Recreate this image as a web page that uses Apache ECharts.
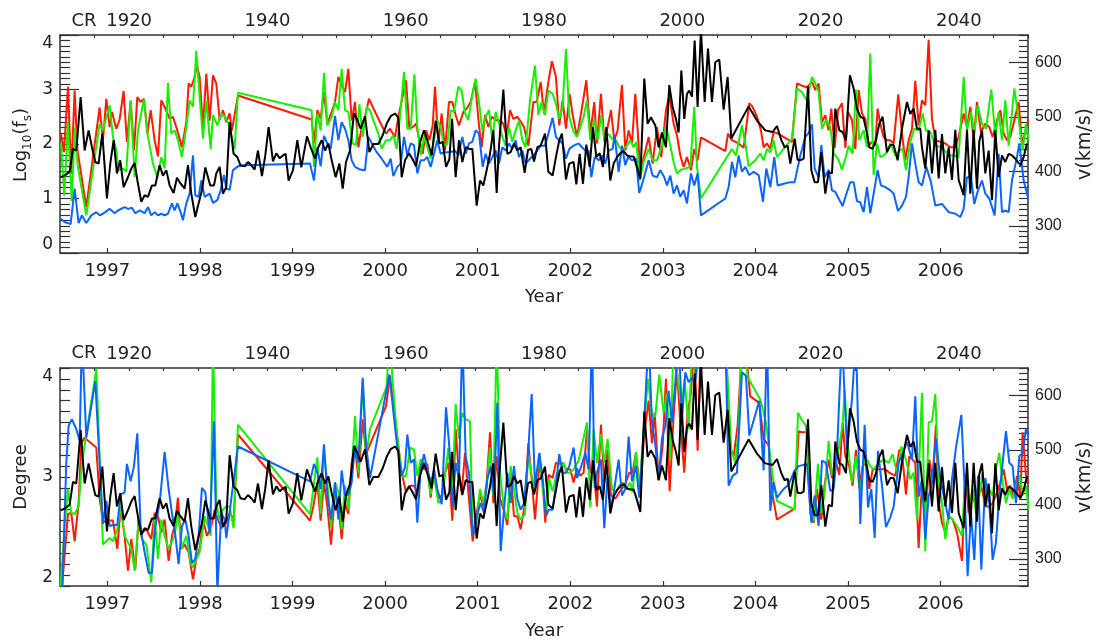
<!DOCTYPE html>
<html><head><meta charset="utf-8">
<script src="https://cdn.jsdelivr.net/npm/echarts@6/dist/echarts.min.js"></script>
<style>html,body{margin:0;padding:0;background:#fff}#c{width:1097px;height:639px}</style>
</head><body><div id="c"></div>
<script>
const yearTicks = [1997,1998,1999,2000,2001,2002,2003,2004,2005,2006];
const crLabels = [1920,1940,1960,1980,2000,2020,2040];
const speedTicks = [300,400,500,600];

const topRed = [[1996.50,2.19],[1996.532,1.85],[1996.575,3.05],[1996.611,1.45],[1996.647,2.98],[1996.676,1.9],[1996.773,0.84],[1996.917,2.67],[1996.953,2.07],[1996.989,2.83],[1997.025,2.31],[1997.05,2.59],[1997.097,2.28],[1997.133,2.45],[1997.176,2.97],[1997.212,2.04],[1997.252,2.79],[1997.288,1.88],[1997.324,2.86],[1997.36,2.77],[1997.396,2.83],[1997.432,2.19],[1997.468,2.62],[1997.511,2.07],[1997.547,1.77],[1997.583,2.8],[1997.619,2.68],[1997.673,2.46],[1997.709,2.5],[1997.745,2.31],[1997.806,1.94],[1997.853,2.4],[1997.878,3.11],[1997.907,3.05],[1997.943,3.23],[1997.968,3.45],[1997.997,3.23],[1998.033,2.31],[1998.069,3.29],[1998.105,2.43],[1998.141,3.26],[1998.177,3.11],[1998.213,2.44],[1998.249,2.62],[1998.285,2.4],[1998.321,2.56],[1998.346,2.25],[1998.411,2.89],
[1999.207,2.45],[1999.232,2.01],[1999.268,2.62],[1999.304,2.46],[1999.34,2.95],[1999.376,2.37],[1999.423,2.59],[1999.459,2.77],[1999.495,3.23],[1999.531,3.08],[1999.567,2.95],[1999.603,3.38],[1999.639,2.43],[1999.675,2.77],[1999.711,1.94],[1999.747,2.31],[1999.783,2.5],[1999.826,2.83],[1999.866,2.68],[1999.909,2.53],[1999.963,2.34],[2000.01,2.19],[2000.053,2.28],[2000.107,2.13],[2000.147,2.53],[2000.226,3.17],[2000.262,2.28],[2000.298,2.31],[2000.334,2.37],[2000.37,2.07],[2000.406,1.82],[2000.442,2.25],[2000.478,2.07],[2000.514,2.34],[2000.539,3.05],[2000.575,2.01],[2000.611,2.56],[2000.647,1.88],[2000.69,2.77],[2000.726,2.77],[2000.762,2.53],[2000.798,2.34],[2000.845,2.59],[2000.881,2.65],[2000.924,2.77],[2000.971,3.14],[2001.014,2.34],[2001.043,1.94],[2001.079,2.53],[2001.115,2.31],[2001.151,2.5],[2001.205,2.43],[2001.241,2.43],[2001.277,2.37],[2001.313,2.13],[2001.349,2.62],[2001.385,2.46],[2001.428,2.5],[2001.457,2.43],[2001.5,2.31],[2001.547,1.97],[2001.601,2.77],[2001.637,2.77],[2001.68,3.14],[2001.716,2.56],[2001.763,3.14],[2001.802,3.52],[2001.845,3.23],[2001.881,2.34],[2001.917,2.8],[2001.953,2.28],[2001.993,2.92],[2002.029,2.5],[2002.072,2.13],[2002.119,2.59],[2002.173,3.17],[2002.216,2.19],[2002.259,2.77],[2002.288,2.01],[2002.331,2.92],[2002.367,2.07],[2002.403,2.31],[2002.439,2.62],[2002.475,2.07],[2002.511,2.25],[2002.558,3.08],[2002.594,1.88],[2002.63,2.25],[2002.666,2.01],[2002.702,2.92],[2002.756,1.49],[2002.803,1.82],[2002.846,2.13],[2002.889,1.64],[2002.936,2.31],[2002.983,1.76],[2003.033,2.62],[2003.069,2.89],[2003.116,2.37],[2003.152,2.16],[2003.188,1.79],[2003.224,1.58],[2003.26,1.76],[2003.303,1.52],[2003.339,1.91],[2003.375,1.7],[2003.411,2.12],[2003.674,1.87],[2003.703,2.19],[2003.746,2.07],[2003.818,2.01],[2003.872,1.93],[2003.933,2.75],[2003.969,2.68],[2004.016,2.5],[2004.059,2.25],[2004.088,1.94],[2004.124,2.01],[2004.16,1.91],[2004.196,2.22],[2004.232,2.2],
[2004.394,2.04],[2004.448,3.11],[2004.502,3.07],[2004.556,3.04],[2004.61,3.14],[2004.646,2.99],[2004.682,3.11],[2004.718,2.4],[2004.754,2.53],[2004.79,2.25],[2004.819,2.65],[2004.855,1.93],[2004.891,2.62],[2004.934,2.75],[2004.97,1.93],[2004.999,2.59],[2005.042,2.44],[2005.078,1.91],[2005.114,2.99],[2005.15,2.56],[2005.186,2.46],[2005.222,1.97],[2005.258,2.04],[2005.294,1.97],[2005.319,2.65],[2005.348,2.37],[2005.384,2.13],[2005.42,2.07],[2005.456,2.07],[2005.492,2.01],[2005.542,2.91],[2005.582,2.19],[2005.618,1.7],[2005.654,2.07],[2005.69,2.28],[2005.726,3.16],[2005.762,2.34],[2005.798,2.8],[2005.834,2.71],[2005.87,3.91],[2005.906,2.46],[2005.942,2.07],[2005.996,2.04],[2006.05,2.01],[2006.104,1.94],[2006.158,1.94],[2006.194,2.13],[2006.248,2.56],[2006.284,2.31],[2006.32,2.68],[2006.356,2.07],[2006.392,2.77],[2006.435,2.22],[2006.482,2.37],[2006.525,2.31],[2006.561,2.13],[2006.608,2.43],[2006.644,2.62],[2006.68,2.19],[2006.716,2.07],[2006.752,2.13],[2006.795,2.43],[2006.842,2.77],[2006.878,2.01],[2006.921,2.25],[2006.95,2.43]];

const topGreen = [[1996.50,2.0],[1996.535,1.05],[1996.575,2.4],[1996.615,0.95],[1996.65,2.3],[1996.68,1.6],[1996.773,0.69],[1996.917,2.37],[1996.953,2.25],[1997.025,2.71],[1997.061,2.13],[1997.097,1.88],[1997.122,1.52],[1997.169,1.55],[1997.205,1.49],[1997.252,2.8],[1997.295,1.39],[1997.331,2.25],[1997.396,2.83],[1997.439,2.13],[1997.493,1.64],[1997.54,1.39],[1997.583,1.76],[1997.619,1.55],[1997.655,3.12],[1997.691,2.19],[1997.727,2.25],[1997.763,2.07],[1997.806,1.76],[1997.853,2.31],[1997.889,2.8],[1997.925,2.69],[1997.961,3.71],[1997.997,2.86],[1998.033,2.1],[1998.069,2.8],[1998.116,1.91],[1998.141,2.53],[1998.188,2.34],[1998.231,2.56],[1998.267,2.5],[1998.31,2.37],[1998.375,1.91],[1998.411,2.94],
[1999.207,2.62],[1999.232,1.58],[1999.268,2.56],[1999.304,2.25],[1999.34,3.3],[1999.376,2.34],[1999.423,2.5],[1999.459,2.77],[1999.495,2.62],[1999.531,3.38],[1999.567,2.62],[1999.603,2.59],[1999.65,2.01],[1999.686,1.98],[1999.722,2.73],[1999.758,2.13],[1999.801,2.68],[1999.837,2.62],[1999.88,2.4],[1999.927,2.19],[1999.963,1.91],[2000.01,2.07],[2000.053,2.07],[2000.089,2.16],[2000.125,1.91],[2000.161,2.5],[2000.204,3.32],[2000.24,2.28],[2000.276,2.28],[2000.316,3.28],[2000.348,2.31],[2000.384,1.79],[2000.42,2.13],[2000.456,1.94],[2000.492,1.73],[2000.528,2.07],[2000.564,2.44],[2000.6,2.31],[2000.636,1.97],[2000.672,2.0],[2000.708,2.62],[2000.744,2.59],[2000.791,3.05],[2000.827,2.98],[2000.863,2.56],[2000.899,2.44],[2000.935,2.83],[2000.978,3.2],[2001.014,2.77],[2001.05,2.25],[2001.086,2.5],[2001.122,2.62],[2001.158,2.07],[2001.194,2.59],[2001.23,2.38],[2001.266,2.13],[2001.302,1.97],[2001.338,2.31],[2001.374,2.04],[2001.41,2.25],[2001.446,2.43],[2001.482,2.07],[2001.518,1.94],[2001.565,2.8],[2001.619,3.44],[2001.655,2.53],[2001.691,2.77],[2001.727,2.53],[2001.763,2.98],[2001.809,2.92],[2001.845,2.74],[2001.881,2.46],[2001.917,2.68],[2001.953,3.74],[2001.989,2.5],[2002.036,2.22],[2002.072,2.13],[2002.108,2.31],[2002.144,2.5],[2002.18,2.8],[2002.216,2.07],[2002.259,2.46],[2002.295,2.07],[2002.335,2.53],[2002.371,2.04],[2002.407,2.19],[2002.45,2.1],[2002.493,2.07],[2002.529,1.94],[2002.576,1.91],[2002.612,1.97],[2002.648,2.07],[2002.684,1.94],[2002.713,2.04],[2002.749,1.33],[2002.792,1.67],[2002.846,1.91],[2002.889,1.7],[2002.936,1.7],[2002.99,1.97],[2003.033,2.34],[2003.08,1.97],[2003.116,1.67],[2003.152,1.46],[2003.199,1.53],[2003.242,1.55],[2003.296,1.58],[2003.339,2.68],[2003.368,1.58],[2003.411,1.0],[2003.746,1.91],[2003.789,1.79],[2003.854,2.34],[2003.897,1.94],[2003.926,1.59],[2003.998,1.7],[2004.052,1.83],[2004.088,1.7],[2004.124,1.91],[2004.16,1.85],[2004.196,2.07],[2004.232,1.76],
[2004.394,2.1],[2004.448,3.02],[2004.502,2.95],[2004.556,2.8],[2004.61,3.23],[2004.646,3.11],[2004.682,2.95],[2004.718,2.28],[2004.761,2.44],[2004.808,2.31],[2004.844,1.83],[2004.891,1.73],[2004.934,1.53],[2004.97,1.73],[2005.006,1.97],[2005.049,1.82],[2005.085,3.0],[2005.121,2.07],[2005.168,2.25],[2005.204,1.94],[2005.24,3.66],[2005.276,1.43],[2005.312,2.01],[2005.348,1.76],[2005.384,1.79],[2005.42,1.85],[2005.456,2.01],[2005.51,1.79],[2005.553,1.88],[2005.589,1.91],[2005.625,1.52],[2005.672,2.04],[2005.715,2.28],[2005.762,2.25],[2005.805,2.56],[2005.841,2.25],[2005.888,2.22],[2005.942,1.97],[2006.014,1.94],[2006.086,1.79],[2006.14,1.79],[2006.194,1.76],[2006.248,3.23],[2006.284,2.25],[2006.327,2.59],[2006.363,2.19],[2006.399,2.71],[2006.446,2.37],[2006.489,2.28],[2006.547,3.0],[2006.59,2.13],[2006.626,2.59],[2006.662,2.07],[2006.698,2.8],[2006.734,1.97],[2006.795,3.02],[2006.842,2.46],[2006.885,1.88],[2006.921,2.37],[2006.95,2.07]];

const topBlue = [[1996.496,0.63],[1996.539,0.57],[1996.604,0.53],[1996.647,1.18],[1996.69,0.55],[1996.726,0.69],[1996.773,0.55],[1996.827,0.69],[1996.881,0.75],[1996.917,0.69],[1996.953,0.72],[1997.025,0.81],[1997.079,0.73],[1997.115,0.78],[1997.187,0.84],[1997.223,0.81],[1997.266,0.83],[1997.302,0.73],[1997.349,0.78],[1997.403,0.73],[1997.439,0.84],[1997.475,0.69],[1997.511,0.75],[1997.547,0.69],[1997.583,0.72],[1997.619,0.69],[1997.655,0.72],[1997.698,0.91],[1997.727,0.78],[1997.756,0.91],[1997.792,0.75],[1997.817,0.6],[1997.853,0.91],[1997.889,1.09],[1997.925,1.79],[1997.95,1.06],[1997.986,1.03],[1998.015,1.33],[1998.051,1.03],[1998.105,1.09],[1998.141,0.92],[1998.188,0.97],[1998.224,1.15],[1998.26,1.43],[1998.285,1.18],[1998.321,1.16],[1998.357,1.52],[1998.411,1.59],[1998.483,1.61],
[1999.189,1.64],[1999.232,1.33],[1999.268,1.94],[1999.304,1.59],[1999.34,2.15],[1999.376,2.01],[1999.412,1.91],[1999.459,2.51],[1999.495,2.07],[1999.531,2.4],[1999.567,2.28],[1999.603,2.07],[1999.639,1.7],[1999.675,1.58],[1999.729,1.53],[1999.783,1.52],[1999.819,2.13],[1999.866,1.98],[1999.909,1.85],[1999.963,1.73],[2000.024,1.58],[2000.06,1.73],[2000.089,1.41],[2000.132,1.58],[2000.168,1.64],[2000.204,2.13],[2000.24,1.79],[2000.276,2.01],[2000.312,1.98],[2000.348,1.46],[2000.384,1.7],[2000.42,1.7],[2000.456,1.76],[2000.492,1.58],[2000.528,1.82],[2000.564,2.07],[2000.6,1.82],[2000.636,1.85],[2000.672,1.85],[2000.708,1.85],[2000.755,1.88],[2000.791,1.79],[2000.834,2.13],[2000.87,1.82],[2000.906,2.01],[2000.942,2.04],[2000.978,2.25],[2001.014,2.19],[2001.054,1.58],[2001.086,1.82],[2001.122,1.64],[2001.158,1.76],[2001.194,1.88],[2001.23,1.64],[2001.266,1.94],[2001.302,1.88],[2001.338,2.01],[2001.374,1.91],[2001.41,2.07],[2001.446,1.76],[2001.482,1.88],[2001.518,1.64],[2001.565,1.73],[2001.601,1.79],[2001.644,1.88],[2001.68,1.97],[2001.727,1.97],[2001.763,2.19],[2001.809,2.48],[2001.845,2.13],[2001.881,2.07],[2001.917,2.01],[2001.953,1.73],[2001.989,1.91],[2002.036,1.97],[2002.09,2.01],[2002.126,1.94],[2002.169,1.87],[2002.198,1.88],[2002.227,1.39],[2002.263,1.76],[2002.306,1.7],[2002.342,1.79],[2002.378,1.64],[2002.414,1.88],[2002.457,1.91],[2002.479,2.16],[2002.522,1.49],[2002.558,1.97],[2002.594,1.61],[2002.623,1.76],[2002.666,1.7],[2002.709,1.73],[2002.745,1.1],[2002.792,1.36],[2002.846,1.7],[2002.889,1.42],[2002.936,1.39],[2002.972,1.52],[2003.015,1.39],[2003.044,1.24],[2003.08,1.42],[2003.116,1.09],[2003.152,1.24],[2003.188,1.03],[2003.224,1.15],[2003.26,0.91],[2003.303,1.46],[2003.339,1.24],[2003.375,1.46],[2003.411,0.69],[2003.674,1.0],[2003.71,1.21],[2003.746,1.67],[2003.782,1.39],[2003.818,1.79],[2003.854,1.49],[2003.89,1.58],[2003.933,1.43],[2003.98,1.49],[2004.034,1.43],[2004.081,0.94],[2004.117,1.55],[2004.16,1.21],[2004.203,1.76],[2004.239,1.24],[2004.304,1.27],[2004.376,1.3],
[2004.423,1.3],[2004.484,1.79],[2004.538,2.13],[2004.574,2.2],[2004.61,2.36],[2004.639,1.55],[2004.682,1.39],[2004.711,1.98],[2004.747,1.39],[2004.79,1.53],[2004.826,1.15],[2004.862,1.12],[2004.898,1.0],[2004.941,0.86],[2004.977,1.06],[2005.024,1.3],[2005.06,1.3],[2005.096,0.95],[2005.132,0.93],[2005.168,0.75],[2005.204,1.21],[2005.24,0.73],[2005.276,1.09],[2005.319,1.52],[2005.355,1.24],[2005.402,1.21],[2005.456,1.15],[2005.492,1.09],[2005.539,0.77],[2005.582,0.87],[2005.625,1.03],[2005.654,1.39],[2005.69,2.01],[2005.726,1.64],[2005.762,1.3],[2005.798,1.24],[2005.845,1.58],[2005.895,1.3],[2005.942,0.87],[2006.014,0.9],[2006.086,0.75],[2006.158,0.72],[2006.212,0.66],[2006.248,0.81],[2006.284,1.39],[2006.327,1.39],[2006.363,0.9],[2006.403,1.15],[2006.446,1.33],[2006.482,1.09],[2006.525,1.0],[2006.583,0.69],[2006.626,1.82],[2006.662,0.75],[2006.698,0.78],[2006.734,0.75],[2006.77,1.33],[2006.824,1.76],[2006.849,2.01],[2006.896,1.33],[2006.95,0.97]];

const speed = [[1996.496,389],[1996.539,392],[1996.593,399],[1996.629,441],[1996.665,438],[1996.712,536],[1996.755,438],[1996.798,475],[1996.834,444],[1996.87,417],[1996.906,414],[1996.946,469],[1996.996,350],[1997.032,414],[1997.068,457],[1997.104,396],[1997.14,420],[1997.176,371],[1997.223,389],[1997.259,405],[1997.295,415],[1997.331,377],[1997.367,344],[1997.403,356],[1997.439,353],[1997.482,374],[1997.518,374],[1997.565,411],[1997.601,392],[1997.637,402],[1997.673,374],[1997.716,360],[1997.752,388],[1997.788,378],[1997.835,368],[1997.871,411],[1997.907,359],[1997.95,316],[1997.986,341],[1998.022,365],[1998.058,407],[1998.112,374],[1998.152,374],[1998.177,396],[1998.213,408],[1998.249,359],[1998.285,371],[1998.321,490],[1998.364,432],[1998.403,426],[1998.439,411],[1998.483,409],[1998.519,417],[1998.555,411],[1998.591,403],[1998.627,438],[1998.67,391],[1998.706,429],[1998.742,481],[1998.789,418],[1998.825,433],[1998.861,424],[1998.897,429],[1998.926,432],[1998.958,383],[1999.005,402],[1999.052,457],[1999.095,407],[1999.156,464],
[1999.196,444],[1999.243,423],[1999.279,444],[1999.315,457],[1999.351,438],[1999.387,451],[1999.423,420],[1999.466,389],[1999.506,414],[1999.542,368],[1999.578,417],[1999.621,438],[1999.664,506],[1999.7,494],[1999.736,478],[1999.783,501],[1999.83,435],[1999.873,450],[1999.927,450],[1999.974,466],[2000.017,487],[2000.06,501],[2000.107,506],[2000.143,498],[2000.179,389],[2000.215,420],[2000.258,433],[2000.294,423],[2000.334,409],[2000.377,453],[2000.42,475],[2000.467,451],[2000.503,429],[2000.546,493],[2000.586,451],[2000.622,454],[2000.658,408],[2000.694,422],[2000.723,496],[2000.762,389],[2000.798,457],[2000.834,417],[2000.87,444],[2000.906,441],[2000.942,441],[2000.989,337],[2001.025,383],[2001.061,374],[2001.097,402],[2001.133,432],[2001.169,475],[2001.205,360],[2001.23,446],[2001.277,550],[2001.32,432],[2001.356,435],[2001.392,451],[2001.428,438],[2001.464,444],[2001.507,397],[2001.543,439],[2001.579,441],[2001.608,418],[2001.644,444],[2001.68,447],[2001.727,469],[2001.763,399],
[2001.809,392],[2001.845,426],[2001.881,457],[2001.91,469],[2001.953,385],[2001.989,414],[2002.036,417],[2002.065,376],[2002.101,432],[2002.137,377],[2002.173,449],[2002.209,408],[2002.245,481],[2002.281,426],[2002.317,433],[2002.353,408],[2002.389,481],[2002.432,383],[2002.468,414],[2002.504,426],[2002.54,433],[2002.576,437],[2002.612,429],[2002.648,427],[2002.684,427],[2002.72,408],[2002.756,386],[2002.799,570],[2002.835,487],[2002.871,499],[2002.918,484],[2002.954,444],[2002.99,471],[2003.033,444],[2003.069,558],[2003.105,518],[2003.141,496],[2003.17,471],[2003.199,585],[2003.231,496],[2003.26,542],[2003.285,548],[2003.314,537],[2003.343,640],[2003.375,518],[2003.411,660],[2003.451,527],[2003.487,625],[2003.53,527],[2003.566,600],[2003.609,605],[2003.656,513],[2003.699,573],[2003.739,460],[2003.926,519],[2004.016,493],[2004.106,475],[2004.185,472],[2004.232,483],[2004.279,457],[2004.315,444],[2004.347,447],[2004.376,414],
[2004.423,460],[2004.455,421],[2004.484,420],[2004.52,423],[2004.538,426],[2004.567,556],[2004.603,402],[2004.639,380],[2004.675,380],[2004.711,435],[2004.754,359],[2004.79,399],[2004.826,396],[2004.862,515],[2004.905,475],[2004.941,472],[2004.977,457],[2005.02,576],[2005.06,552],[2005.096,515],[2005.132,500],[2005.168,497],[2005.204,469],[2005.229,444],[2005.265,441],[2005.301,457],[2005.337,487],[2005.373,500],[2005.42,435],[2005.456,448],[2005.492,448],[2005.535,420],[2005.582,478],[2005.636,527],[2005.672,505],[2005.708,515],[2005.744,478],[2005.78,478],[2005.798,444],[2005.834,405],[2005.87,475],[2005.906,396],[2005.942,476],[2005.978,387],[2006.014,468],[2006.05,396],[2006.086,444],[2006.122,384],[2006.158,476],[2006.194,384],[2006.248,356],[2006.284,476],[2006.32,359],[2006.356,476],[2006.392,368],[2006.417,455],[2006.446,475],[2006.482,396],[2006.518,438],[2006.554,347],[2006.59,475],[2006.626,389],[2006.662,429],[2006.698,417],[2006.734,432],[2006.77,429],[2006.806,423],[2006.86,411],[2006.896,426],[2006.932,451]];

const botRed = [[1996.50,1.9],[1996.532,2.21],[1996.575,2.66],[1996.611,2.67],[1996.647,2.41],[1996.69,2.76],[1996.719,3.31],[1996.755,3.36],[1996.881,3.27],[1996.917,2.8],[1996.953,2.6],[1996.989,2.58],[1997.025,2.6],[1997.061,2.6],[1997.108,2.34],[1997.144,2.73],[1997.187,2.46],[1997.223,2.14],[1997.259,2.43],[1997.302,2.15],[1997.338,2.61],[1997.374,2.49],[1997.421,2.52],[1997.475,2.43],[1997.511,2.67],[1997.547,2.64],[1997.583,2.49],[1997.619,2.61],[1997.662,2.23],[1997.698,2.46],[1997.727,2.55],[1997.763,2.81],[1997.799,2.34],[1997.835,2.38],[1997.878,2.31],[1997.925,2.06],[1997.961,2.25],[1997.997,2.34],[1998.033,2.61],[1998.076,2.46],[1998.123,2.55],[1998.159,2.7],[1998.195,2.61],[1998.231,2.53],[1998.285,2.58],[1998.321,2.67],[1998.364,2.61],[1998.411,3.39],
[1999.189,2.6],[1999.225,2.73],[1999.268,2.95],[1999.304,2.6],[1999.34,2.95],[1999.376,2.73],[1999.416,2.38],[1999.459,2.86],[1999.495,2.76],[1999.531,2.43],[1999.567,2.76],[1999.603,2.66],[1999.639,3.13],[1999.675,3.27],[1999.711,2.99],[1999.758,3.53],[1999.794,3.21],[1999.837,3.3],[2000.01,3.65],[2000.053,3.93],[2000.107,3.53],[2000.179,3.04],[2000.226,2.86],[2000.269,2.92],[2000.312,2.92],[2000.348,2.86],[2000.384,3.13],[2000.42,3.07],[2000.456,3.12],[2000.492,2.81],[2000.528,3.07],[2000.575,2.81],[2000.611,2.83],[2000.647,3.04],[2000.683,3.13],[2000.726,2.6],[2000.762,3.44],[2000.798,3.01],[2000.827,2.86],[2000.863,3.22],[2000.899,2.86],[2000.946,2.41],[2000.989,2.67],[2001.025,2.84],[2001.061,2.73],[2001.097,2.95],[2001.133,3.41],[2001.169,2.76],[2001.205,3.19],[2001.241,2.8],[2001.284,2.69],[2001.32,2.56],[2001.356,3.04],[2001.392,2.64],[2001.428,2.64],[2001.464,2.52],[2001.511,2.76],[2001.547,3.31],[2001.583,2.98],[2001.619,2.61],[2001.666,3.13],[2001.702,2.95],
[2001.73,2.58],[2001.766,3.02],[2001.809,2.99],[2001.845,3.13],[2001.881,3.12],[2001.917,3.13],[2001.953,3.07],[2001.999,3.07],[2002.036,2.95],[2002.072,3.08],[2002.108,3.01],[2002.144,3.04],[2002.18,3.44],[2002.216,3.04],[2002.252,3.07],[2002.288,2.73],[2002.331,3.48],[2002.367,2.95],[2002.403,3.25],[2002.439,2.83],[2002.486,2.8],[2002.529,2.86],[2002.565,2.9],[2002.601,2.95],[2002.637,3.04],[2002.673,3.04],[2002.709,3.22],[2002.756,2.86],[2002.799,3.41],[2002.846,3.7],[2002.882,3.31],[2002.911,3.59],[2002.954,2.98],[2002.997,3.28],[2003.033,3.9],[2003.073,2.87],[2003.116,3.56],[2003.152,3.99],[2003.188,3.5],[2003.231,3.04],[2003.267,3.59],[2003.303,3.77],[2003.339,4.2],[2003.375,3.24],[2003.411,4.3],[2003.674,4.3],[2003.728,3.25],[2003.764,3.19],[2003.807,3.47],[2003.854,4.2],[2003.89,4.2],[2003.944,3.74],[2004.041,3.68],[2004.088,3.35],[2004.142,3.29],[2004.185,2.83],[2004.232,2.61],
[2004.423,2.71],[2004.466,3.42],[2004.502,3.41],[2004.556,3.41],[2004.592,2.67],[2004.628,2.58],[2004.664,2.89],[2004.711,2.61],[2004.747,2.93],[2004.79,3.16],[2004.826,2.99],[2004.862,3.16],[2004.905,3.02],[2004.941,3.5],[2004.97,3.19],[2005.006,3.13],[2005.049,2.92],[2005.085,3.25],[2005.121,2.9],[2005.157,3.1],[2005.193,3.13],[2005.229,2.89],[2005.265,3.07],[2005.312,3.07],[2005.359,3.07],[2005.402,3.07],[2005.445,3.04],[2005.51,3.01],[2005.553,3.25],[2005.589,3.16],[2005.625,2.84],[2005.661,3.19],[2005.697,3.16],[2005.726,3.13],[2005.762,2.35],[2005.798,2.95],[2005.841,2.7],[2005.877,3.16],[2005.913,2.98],[2005.949,3.48],[2005.978,2.77],[2006.014,2.58],[2006.05,2.49],[2006.086,2.64],[2006.129,2.61],[2006.176,2.49],[2006.23,2.23],[2006.266,3.02],[2006.302,2.67],[2006.338,2.83],[2006.374,2.76],[2006.41,2.95],[2006.446,2.89],[2006.482,2.73],[2006.525,2.73],[2006.561,2.76],[2006.608,2.86],[2006.644,2.95],[2006.68,3.07],[2006.716,2.89],[2006.752,2.92],[2006.788,2.82],[2006.824,3.01],[2006.86,2.81],[2006.885,3.41],[2006.921,3.01],[2006.95,2.95]];

const botGreen = [[1996.496,2.0],[1996.539,2.55],[1996.575,2.89],[1996.611,2.67],[1996.647,2.66],[1996.69,2.73],[1996.726,3.13],[1996.881,3.99],[1996.953,2.38],[1996.989,2.41],[1997.025,2.44],[1997.061,2.41],[1997.108,2.52],[1997.144,2.73],[1997.187,2.46],[1997.223,2.4],[1997.259,2.34],[1997.295,2.14],[1997.338,2.61],[1997.374,2.43],[1997.421,2.38],[1997.475,2.03],[1997.511,2.64],[1997.547,2.25],[1997.583,2.61],[1997.619,2.46],[1997.662,2.34],[1997.698,2.41],[1997.727,2.46],[1997.763,2.67],[1997.806,2.35],[1997.853,2.46],[1997.9,2.21],[1997.925,2.17],[1997.961,2.25],[1997.997,2.31],[1998.051,2.64],[1998.087,2.55],[1998.116,2.46],[1998.141,4.3],[1998.177,2.76],[1998.213,2.61],[1998.249,2.7],[1998.285,2.73],[1998.321,2.73],[1998.364,2.53],[1998.411,3.48],
[1999.189,2.66],[1999.225,2.89],[1999.268,3.18],[1999.304,2.66],[1999.34,3.22],[1999.376,2.95],[1999.416,2.54],[1999.459,2.95],[1999.495,2.86],[1999.531,2.52],[1999.567,2.92],[1999.603,2.7],[1999.639,3.04],[1999.675,3.56],[1999.711,3.04],[1999.758,3.88],[1999.794,3.19],[1999.837,3.44],[2000.017,3.83],[2000.046,4.3],[2000.107,3.59],[2000.143,3.28],[2000.179,3.01],[2000.226,3.01],[2000.269,3.27],[2000.312,3.25],[2000.348,3.01],[2000.384,3.16],[2000.42,3.13],[2000.456,3.04],[2000.492,2.84],[2000.528,3.01],[2000.575,2.76],[2000.611,2.79],[2000.647,3.01],[2000.683,3.27],[2000.726,2.83],[2000.762,3.67],[2000.798,3.35],[2000.834,3.59],[2000.87,3.53],[2000.917,3.51],[2000.946,2.49],[2000.989,2.58],[2001.025,2.89],[2001.061,2.76],[2001.097,2.92],[2001.133,3.27],[2001.169,2.83],[2001.205,4.3],[2001.241,3.04],[2001.284,2.7],[2001.32,2.61],[2001.356,3.1],[2001.392,2.89],[2001.428,2.67],[2001.464,2.61],[2001.511,2.66],[2001.547,3.22],[2001.583,3.01],[2001.619,2.89],[2001.666,3.22],[2001.702,2.89],[2001.738,2.7],
[2001.773,2.98],[2001.809,2.87],[2001.856,3.04],[2001.892,3.07],[2001.928,3.13],[2001.964,3.04],[2002.0,3.04],[2002.036,3.07],[2002.09,3.15],[2002.133,3.32],[2002.18,3.5],[2002.216,2.72],[2002.252,3.44],[2002.288,3.13],[2002.331,3.39],[2002.367,3.13],[2002.403,3.35],[2002.45,2.89],[2002.493,2.86],[2002.529,2.92],[2002.565,2.95],[2002.601,2.89],[2002.648,2.95],[2002.673,2.86],[2002.709,3.23],[2002.745,2.86],[2002.792,3.44],[2002.839,3.9],[2002.882,3.56],[2002.918,3.56],[2002.961,3.94],[2003.008,3.59],[2003.044,3.77],[2003.08,3.16],[2003.116,4.3],[2003.152,3.96],[2003.199,3.65],[2003.235,3.9],[2003.278,3.44],[2003.321,4.3],[2003.357,3.9],[2003.411,4.3],[2003.674,4.3],[2003.739,3.25],[2003.782,3.13],[2003.818,3.44],[2003.854,4.3],[2003.919,3.91],[2004.052,3.71],[2004.113,3.5],[2004.185,3.01],[2004.232,2.78],
[2004.423,2.7],[2004.459,3.59],[2004.495,3.53],[2004.545,3.47],[2004.592,2.83],[2004.628,2.6],[2004.675,3.12],[2004.711,2.67],[2004.747,2.86],[2004.79,3.33],[2004.826,3.01],[2004.862,3.13],[2004.905,3.28],[2004.941,3.49],[2004.963,3.8],[2004.999,3.28],[2005.042,2.95],[2005.085,3.19],[2005.132,2.87],[2005.168,3.13],[2005.204,3.16],[2005.24,3.1],[2005.276,3.07],[2005.33,3.13],[2005.384,3.16],[2005.438,3.13],[2005.481,3.21],[2005.528,3.04],[2005.575,3.28],[2005.625,3.16],[2005.672,2.98],[2005.708,3.04],[2005.744,2.61],[2005.798,3.77],[2005.834,2.32],[2005.87,3.5],[2005.906,3.51],[2005.942,3.76],[2005.978,2.95],[2006.014,2.77],[2006.05,2.43],[2006.086,2.64],[2006.129,2.61],[2006.176,2.55],[2006.23,2.46],[2006.266,3.01],[2006.309,2.77],[2006.345,2.89],[2006.381,2.67],[2006.417,2.83],[2006.453,3.04],[2006.489,2.73],[2006.525,2.89],[2006.561,2.83],[2006.597,3.07],[2006.633,3.22],[2006.669,2.95],[2006.705,2.76],[2006.741,2.89],[2006.777,2.8],[2006.813,2.92],[2006.849,3.02],[2006.885,2.83],[2006.921,2.92],[2006.95,2.7]];

const botBlue = [[1996.514,1.95],[1996.557,3.13],[1996.582,3.47],[1996.618,3.53],[1996.665,3.44],[1996.701,3.33],[1996.726,4.3],[1996.773,3.36],[1996.827,3.65],[1996.87,3.88],[1996.953,2.57],[1996.989,2.78],[1997.025,2.55],[1997.061,2.56],[1997.108,2.56],[1997.144,2.84],[1997.187,2.86],[1997.212,3.12],[1997.252,2.96],[1997.288,3.1],[1997.324,3.4],[1997.36,2.52],[1997.403,2.31],[1997.446,2.12],[1997.482,2.12],[1997.518,2.54],[1997.565,2.76],[1997.619,3.23],[1997.662,2.89],[1997.698,2.67],[1997.727,2.52],[1997.77,2.2],[1997.806,2.55],[1997.842,2.61],[1997.878,2.46],[1997.914,2.21],[1997.95,2.25],[1997.986,2.46],[1998.022,2.9],[1998.058,2.86],[1998.105,2.49],[1998.152,3.51],[1998.188,1.95],[1998.231,2.67],[1998.267,2.61],[1998.285,2.44],[1998.411,3.28],
[1999.189,2.96],[1999.232,3.12],[1999.268,3.04],[1999.304,2.89],[1999.34,3.3],[1999.376,2.84],[1999.416,2.61],[1999.459,2.95],[1999.495,2.61],[1999.531,3.06],[1999.567,2.83],[1999.603,2.84],[1999.639,2.95],[1999.675,3.29],[1999.711,3.13],[1999.758,3.91],[1999.794,3.3],[1999.837,2.99],[2000.046,3.94],[2000.125,3.32],[2000.179,3.01],[2000.215,3.09],[2000.24,3.39],[2000.276,3.13],[2000.312,3.16],[2000.348,2.58],[2000.384,3.07],[2000.42,3.21],[2000.456,3.07],[2000.492,2.95],[2000.528,3.06],[2000.564,2.89],[2000.611,2.75],[2000.658,3.64],[2000.694,3.27],[2000.726,2.73],[2000.762,3.13],[2000.798,2.98],[2000.834,4.3],[2000.87,3.19],[2000.906,3.04],[2000.946,2.46],[2000.989,2.64],[2001.032,2.76],[2001.068,2.67],[2001.104,2.98],[2001.14,3.1],[2001.176,2.83],[2001.212,3.68],[2001.248,2.32],[2001.284,2.7],[2001.32,3.04],[2001.356,2.76],[2001.392,3.1],[2001.428,2.8],[2001.464,2.7],[2001.5,2.76],[2001.536,3.1],[2001.583,3.76],[2001.619,2.92],[2001.666,3.22],[2001.702,2.98],[2001.738,2.64],
[2001.766,2.7],[2001.809,2.7],[2001.845,2.92],[2001.881,3.21],[2001.917,3.04],[2001.953,3.04],[2001.989,3.1],[2002.036,3.27],[2002.072,2.99],[2002.115,3.09],[2002.162,3.22],[2002.198,3.07],[2002.234,4.3],[2002.263,2.9],[2002.288,3.04],[2002.331,3.16],[2002.367,2.53],[2002.403,3.01],[2002.439,2.7],[2002.475,2.89],[2002.522,3.16],[2002.558,2.83],[2002.594,2.89],[2002.63,3.37],[2002.666,2.96],[2002.709,3.1],[2002.745,2.81],[2002.792,3.4],[2002.846,4.3],[2002.882,3.5],[2002.918,3.3],[2002.954,2.98],[2002.99,3.35],[2003.026,3.47],[2003.062,3.79],[2003.098,3.5],[2003.134,3.87],[2003.17,4.3],[2003.206,3.53],[2003.242,3.96],[2003.278,3.87],[2003.314,3.91],[2003.35,3.87],[2003.386,4.3],[2003.411,4.3],[2003.674,4.3],[2003.71,2.92],[2003.753,3.01],[2003.8,3.04],[2003.854,3.96],[2003.897,3.93],[2003.933,3.38],[2004.041,3.7],[2004.088,3.06],[2004.124,4.3],[2004.16,2.69],[2004.196,2.95],[2004.232,2.81],[2004.304,2.89],
[2004.358,2.93],[2004.423,3.06],[2004.466,3.1],[2004.556,3.12],[2004.603,2.58],[2004.639,2.83],[2004.682,2.55],[2004.718,3.15],[2004.761,3.13],[2004.808,2.87],[2004.844,2.89],[2004.88,3.22],[2004.934,4.3],[2004.988,3.25],[2005.042,3.71],[2005.085,4.3],[2005.132,2.57],[2005.179,3.48],[2005.215,2.72],[2005.251,2.89],[2005.287,2.44],[2005.323,3.24],[2005.366,2.92],[2005.409,2.54],[2005.456,2.63],[2005.492,2.73],[2005.546,3.13],[2005.589,3.22],[2005.636,3.32],[2005.69,3.16],[2005.726,3.74],[2005.762,2.82],[2005.798,2.98],[2005.834,2.43],[2005.87,2.82],[2005.906,2.95],[2005.949,3.35],[2005.996,2.98],[2006.05,2.76],[2006.086,2.61],[2006.122,2.98],[2006.165,3.27],[2006.223,3.57],[2006.259,2.89],[2006.291,2.09],[2006.327,2.67],[2006.363,2.24],[2006.403,3.01],[2006.439,2.15],[2006.482,2.99],[2006.525,2.76],[2006.561,2.24],[2006.597,2.4],[2006.633,2.83],[2006.669,3.13],[2006.705,3.42],[2006.741,3.13],[2006.777,3.1],[2006.813,2.76],[2006.849,3.19],[2006.885,3.22],[2006.921,3.44],[2006.95,3.38]];

const FONT = '"DejaVu Sans", sans-serif';
const AX = '#333';
const TXT = '#222';
const COLORS = { red:'#ff1a00', green:'#1aee00', blue:'#0a64ff', black:'#000000' };

function xYear(gi){ return {
  type:'value', gridIndex:gi, position:'bottom', min:1996.489, max:2006.943,
  axisLine:{show:true,onZero:false,lineStyle:{color:AX,width:1.5}},
  axisTick:{show:true,inside:true,length:5,customValues:yearTicks,lineStyle:{color:AX,width:1.2}},
  axisLabel:{show:true,customValues:yearTicks,margin:9,formatter:v=>String(v),color:TXT,fontFamily:FONT,fontSize:18},
  splitLine:{show:false}
};}
function xCR(gi){ return {
  type:'value', gridIndex:gi, position:'top', min:1910, max:2050, interval:5,
  axisLine:{show:true,onZero:false,lineStyle:{color:AX,width:1.5}},
  axisTick:{show:true,inside:true,length:3,lineStyle:{color:AX,width:1.2}},
  axisLabel:{show:true,margin:5,formatter:v=>crLabels.indexOf(v)>=0?String(v):'',color:TXT,fontFamily:FONT,fontSize:18},
  splitLine:{show:false}
};}
function yLeft(gi,min,max,majorLen){ return {
  type:'value', gridIndex:gi, position:'left', min:min, max:max, interval:1,
  axisLine:{show:true,onZero:false,lineStyle:{color:AX,width:1.5}},
  axisTick:{show:true,inside:true,length:majorLen,lineStyle:{color:AX,width:1.2}},
  minorTick:{show:true,splitNumber:10,length:10,lineStyle:{color:AX,width:1.2}},
  axisLabel:{show:true,margin:7,color:TXT,fontFamily:FONT,fontSize:17,verticalAlignMinLabel:'bottom',verticalAlignMaxLabel:'top',formatter:v=>String(v)},
  splitLine:{show:false}, minorSplitLine:{show:false}
};}
function yRightMajor(gi){ return {
  type:'value', gridIndex:gi, position:'right', min:250, max:650,
  axisLine:{show:true,onZero:false,lineStyle:{color:AX,width:1.5}},
  axisTick:{show:true,inside:true,length:19,customValues:speedTicks,lineStyle:{color:AX,width:1.2}},
  axisLabel:{show:true,customValues:speedTicks,margin:7,color:TXT,fontFamily:'"Liberation Sans", sans-serif',fontSize:16,formatter:v=>String(v)},
  splitLine:{show:false}
};}
function yRightMinor(gi){ return {
  type:'value', gridIndex:gi, position:'right', min:250, max:650, interval:10,
  axisLine:{show:false,onZero:false},
  axisTick:{show:true,inside:true,length:9,lineStyle:{color:AX,width:1.2}},
  axisLabel:{show:false}, splitLine:{show:false}
};}
function line(data,color,xi,yi,z){ return {
  type:'line', data:data, xAxisIndex:xi, yAxisIndex:yi, showSymbol:false, symbol:'none',
  lineStyle:{color:color,width:2}, itemStyle:{color:color}, z:z, clip:true, animation:false, silent:true
};}

const option = {
  backgroundColor:'#ffffff',
  animation:false,
  grid:[{left:60,top:35,width:968,height:218},{left:60,top:368,width:968,height:218}],
  xAxis:[xYear(0),xCR(0),xYear(1),xCR(1)],
  yAxis:[yLeft(0,0,4,19),yRightMajor(0),yRightMinor(0),yLeft(1,2,4,10),yRightMajor(1),yRightMinor(1)],
  series:[
    line(topRed,COLORS.red,0,0,2),
    line(topGreen,COLORS.green,0,0,3),
    line(topBlue,COLORS.blue,0,0,4),
    line(speed,COLORS.black,0,1,5),
    line(botRed,COLORS.red,2,3,2),
    line(botGreen,COLORS.green,2,3,3),
    line(botBlue,COLORS.blue,2,3,4),
    line(speed,COLORS.black,2,4,5)
  ],
  graphic:[
    {type:'text',x:84,y:21,style:{text:'CR',fill:TXT,font:'18px "DejaVu Sans"',align:'center',verticalAlign:'middle'}},
    {type:'text',x:84,y:353,style:{text:'CR',fill:TXT,font:'18px "DejaVu Sans"',align:'center',verticalAlign:'middle'}},
    {type:'text',x:544,y:297,style:{text:'Year',fill:TXT,font:'18px "DejaVu Sans"',align:'center',verticalAlign:'middle'}},
    {type:'text',x:544,y:631,style:{text:'Year',fill:TXT,font:'18px "DejaVu Sans"',align:'center',verticalAlign:'middle'}},
    {type:'text',x:21,y:145,rotation:Math.PI/2,style:{
      text:'{a|Log}{b|10}{a|(f}{b|s}{a|)}',align:'center',verticalAlign:'middle',
      rich:{a:{fontSize:18,fontFamily:'DejaVu Sans',lineHeight:26,fill:TXT,color:TXT},
            b:{fontSize:12,fontFamily:'DejaVu Sans',lineHeight:12,verticalAlign:'bottom',fill:TXT,color:TXT}}}},
    {type:'text',x:21,y:477,rotation:Math.PI/2,style:{text:'Degree',fill:TXT,font:'18px "DejaVu Sans"',align:'center',verticalAlign:'middle'}},
    {type:'text',x:1085,y:144,rotation:Math.PI/2,style:{text:'v(km/s)',fill:TXT,font:'19px "DejaVu Sans"',align:'center',verticalAlign:'middle'}},
    {type:'text',x:1085,y:477,rotation:Math.PI/2,style:{text:'v(km/s)',fill:TXT,font:'19px "DejaVu Sans"',align:'center',verticalAlign:'middle'}}
  ]
};
const chart = echarts.init(document.getElementById('c'), null, {renderer:'canvas'});
chart.setOption(option);
</script>
</body></html>
